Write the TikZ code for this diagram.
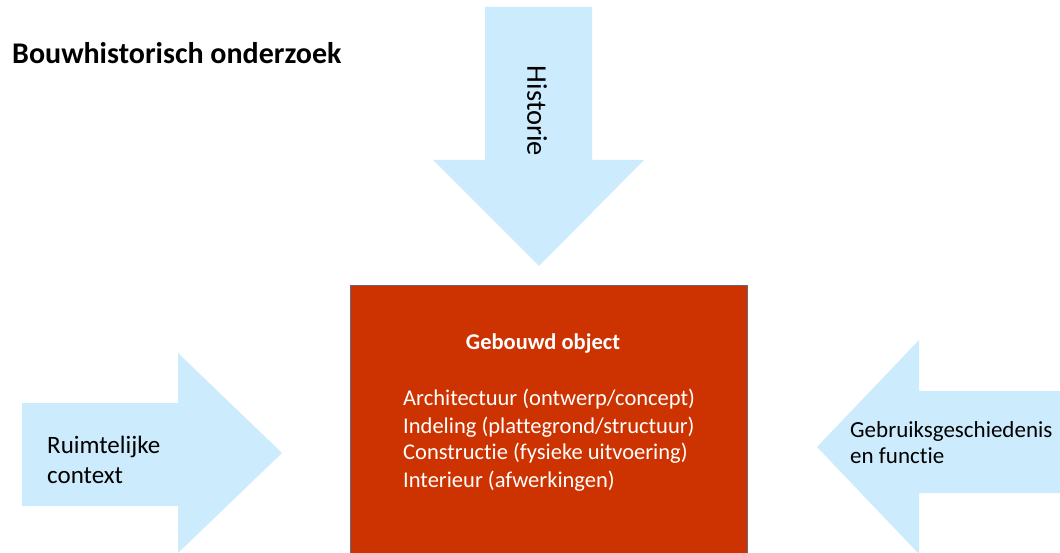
\documentclass[tikz,border=0pt]{standalone}
\usepackage{fontspec}
\setmainfont{Carlito}[Ligatures=NoCommon]
\definecolor{pijlblauw}{HTML}{CCEBFC}
\definecolor{objectrood}{HTML}{CC3300}
\definecolor{randgrijs}{HTML}{5F6B85}

\begin{document}
\begin{tikzpicture}[x=1pt,y=-1pt,
    pijl/.style={fill=pijlblauw,draw=none},
    tekst/.style={inner sep=0pt,anchor=base west,font=\fontsize{22.5}{27}\selectfont},
    zijtekst/.style={tekst,font=\fontsize{25}{30}\selectfont}]
        \useasboundingbox (0,0) rectangle (1060,553);
        \clip (0,0) rectangle (1060,553);
        % titel
        \node (titel) [tekst,font=\bfseries\fontsize{30}{36}\selectfont] at (12,64) {Bouwhistorisch onderzoek};
        % pijlen
        \fill[pijl] (485,7) -- (592,7) -- (592,160) -- (644,160) -- (539,266) -- (433,160) -- (485,160) -- cycle;
        \fill[pijl] (22,403) -- (178,403) -- (178,353) -- (282,453) -- (178,553) -- (178,506) -- (22,506) -- cycle;
        \fill[pijl] (1070,391) -- (919,391) -- (919,340) -- (817,447) -- (919,554) -- (919,493) -- (1070,493) -- cycle;
        \node (historie) [inner sep=0pt,rotate=-90,font=\fontsize{28.5}{34}\selectfont] at (537,111) {Historie};
        \node (ruimte1) [zijtekst] at (47,453) {Ruimtelijke};
        \node (ruimte2) [zijtekst] at (47,483) {context};
        \node (gebruik1) [zijtekst,font=\fontsize{23}{28}\selectfont] at (850,437) {Gebruiksgeschiedenis};
        \node (gebruik2) [zijtekst,font=\fontsize{23}{28}\selectfont] at (850,463) {en functie};
        % object
        \node (object) [draw=randgrijs,line width=1pt,fill=objectrood,anchor=north west,
            minimum width=397pt,minimum height=290pt] at (350,285) {};
        \node (kop) [tekst,anchor=base,text=white,font=\bfseries\fontsize{22.5}{27}\selectfont] at (543,349) {Gebouwd object};
        \node (regel1) [tekst,text=white] at (403,405) {Architectuur (ontwerp/concept)};
        \node (regel2) [tekst,text=white] at (403,433) {Indeling (plattegrond/structuur)};
        \node (regel3) [tekst,text=white] at (403,459) {Constructie (fysieke uitvoering)};
        \node (regel4) [tekst,text=white] at (403,487) {Interieur (afwerkingen)};
    \end{tikzpicture}
\end{document}
